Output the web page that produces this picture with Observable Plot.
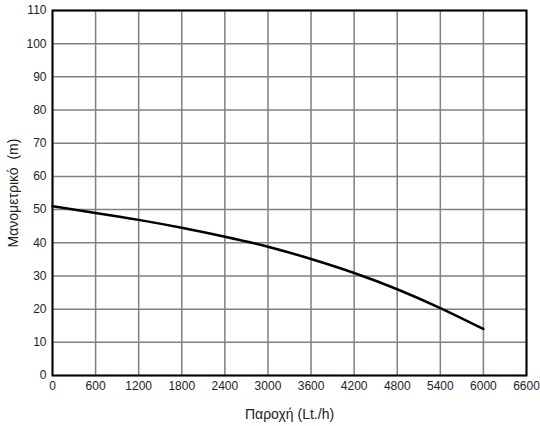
<!DOCTYPE html>
<html>
<head>
<meta charset="utf-8">
<script src="https://cdn.jsdelivr.net/npm/d3@7"></script>
<script src="https://cdn.jsdelivr.net/npm/@observablehq/plot@0.6"></script>
<style>
  html, body { margin: 0; padding: 0; background: #fff; }
  svg { font-family: "Liberation Sans", Arial, sans-serif; }
</style>
</head>
<body>
<div id="chart"></div>
<script>
const flow = [0, 600, 1200, 1800, 2400, 3000, 3600, 4200, 4800, 5400, 6000];
const head = [51, 49, 46.9, 44.5, 41.8, 38.8, 35.1, 30.9, 26.0, 20.3, 14];
const xTicks = [0, 600, 1200, 1800, 2400, 3000, 3600, 4200, 4800, 5400, 6000, 6600];
const yTicks = [0, 10, 20, 30, 40, 50, 60, 70, 80, 90, 100, 110];

const data = flow.map((f, i) => ({flow: f, head: head[i]}));

const chart = Plot.plot({
  width: 540,
  height: 426,
  marginLeft: 52,
  marginRight: 14,
  marginTop: 10,
  marginBottom: 51,
  style: {fontSize: "12px", color: "#222", background: "#fff"},
  x: {domain: [0, 6600], ticks: xTicks, tickFormat: d => String(d), label: "Παροχή (Lt./h)", labelAnchor: "center", labelArrow: "none", labelOffset: 43, tickSize: 0, tickPadding: 6},
  y: {domain: [0, 110], ticks: yTicks, tickFormat: d => String(d), label: "Μανομετρικό  (m)", labelAnchor: "center", labelArrow: "none", labelOffset: 44, tickSize: 0, tickPadding: 6},
  marks: [
    Plot.gridX(xTicks, {stroke: "#808080", strokeOpacity: 1, strokeWidth: 1.5}),
    Plot.gridY(yTicks, {stroke: "#808080", strokeOpacity: 1, strokeWidth: 1.5}),
    Plot.frame({stroke: "#000", strokeWidth: 2}),
    Plot.line(data, {x: "flow", y: "head", curve: "natural", stroke: "#000", strokeWidth: 2.5})
  ]
});
chart.querySelectorAll("g[aria-label='x-axis label'] text, g[aria-label='y-axis label'] text").forEach(t => t.style.fontSize = "14px");
document.getElementById("chart").appendChild(chart);
</script>
</body>
</html>
